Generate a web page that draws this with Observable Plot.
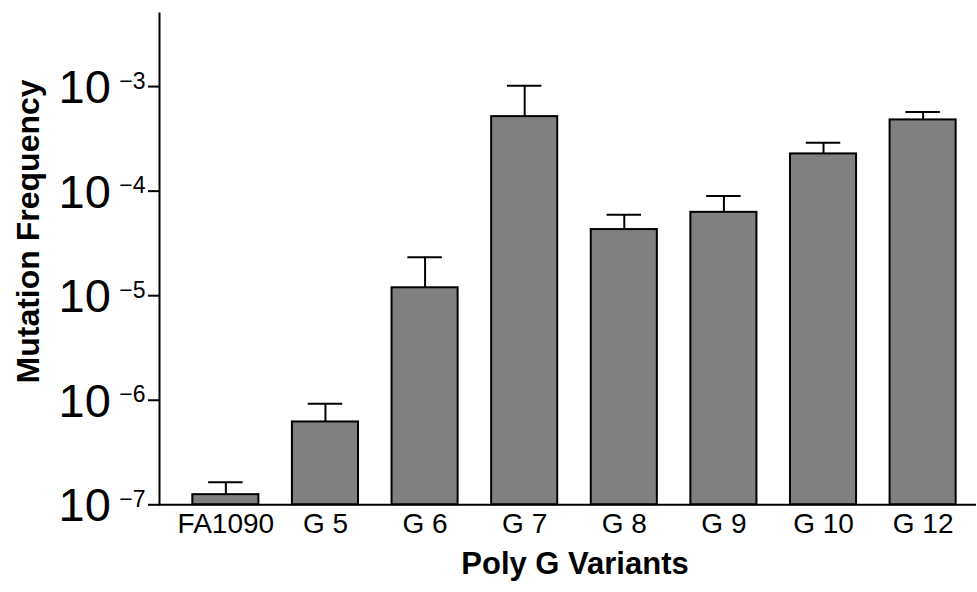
<!DOCTYPE html>
<html>
<head>
<meta charset="utf-8">
<script src="https://cdn.jsdelivr.net/npm/d3@7"></script>
<script src="https://cdn.jsdelivr.net/npm/@observablehq/plot@0.6"></script>
<style>
  html, body { margin: 0; padding: 0; background: #fff; }
  svg { display: block; }
</style>
</head>
<body>
<div id="chart"></div>
<script>
const categories = ["FA1090", "G 5", "G 6", "G 7", "G 8", "G 9", "G 10", "G 12"];
const frequencies = [1.25e-7, 6.2e-7, 1.19e-5, 5.16e-4, 4.29e-5, 6.27e-5, 2.27e-4, 4.80e-4];
const errorTops = [1.64e-7, 9.24e-7, 2.33e-5, 1.02e-3, 5.96e-5, 9.0e-5, 2.91e-4, 5.72e-4];
const yTickValues = [1e-7, 1e-6, 1e-5, 1e-4, 1e-3];
const yTickBase = ["10", "10", "10", "10", "10"];
const yTickExponents = ["\u22127", "\u22126", "\u22125", "\u22124", "\u22123"];
const xTitle = "Poly G Variants";
const yTitle = "Mutation Frequency";
const yFloor = 1e-7;

const data = categories.map((c, i) => ({cat: c, v: frequencies[i], e: errorTops[i]}));
const ticks = yTickValues.map((v, i) => ({v, base: yTickBase[i], exp: yTickExponents[i]}));

const font = "'Liberation Sans', Arial, Helvetica, sans-serif";

const chart = Plot.plot({
  width: 977,
  height: 592,
  marginLeft: 159,
  marginRight: 1,
  marginTop: 13,
  marginBottom: 87.7,
  style: {fontFamily: font, background: "#fff", color: "#000"},
  x: {domain: categories, paddingInner: 0.3366, paddingOuter: 0.2693, align: 0.621, round: false, axis: null},
  y: {type: "log", domain: [1e-7, 5e-3], axis: null},
  marks: [
    Plot.ruleX(data, {x: "cat", y1: "v", y2: "e", stroke: "#000", strokeWidth: 2}),
    Plot.tickY(data, {x: "cat", y: "e", stroke: "#000", strokeWidth: 2, insetLeft: 15.8, insetRight: 15.8}),
    Plot.barY(data, {x: "cat", y1: yFloor, y2: "v", fill: "#808080", stroke: "#000", strokeWidth: 2}),
    Plot.ruleY([yFloor], {stroke: "#000", strokeWidth: 2}),
    Plot.frame({anchor: "left", stroke: "#000", strokeWidth: 2}),
    Plot.axisY({ticks: yTickValues, tickSize: 11, tickFormat: () => "", strokeWidth: 2, label: null}),
    Plot.text(ticks, {y: "v", text: "base", frameAnchor: "left", textAnchor: "end", dx: -48.7, dy: 1.6, fontSize: 47, fill: "#000"}),
    Plot.text(ticks, {y: "v", text: "exp", frameAnchor: "left", textAnchor: "end", dx: -14, dy: -5.4, fontSize: 23, fill: "#000"}),
    Plot.text(data, {x: "cat", text: "cat", frameAnchor: "bottom", dy: 28.4, fontSize: 28, fill: "#000"}),
    Plot.text([xTitle], {text: d => d, frameAnchor: "bottom", textAnchor: "middle", dx: 7, dy: 69, fontSize: 31, fontWeight: "bold", fill: "#000"}),
    Plot.text([yTitle], {text: d => d, frameAnchor: "left", textAnchor: "middle", rotate: -90, dx: -131, dy: -27.7, fontSize: 32, fontWeight: "bold", fill: "#000"})
  ]
});
document.getElementById("chart").appendChild(chart);
</script>
</body>
</html>
